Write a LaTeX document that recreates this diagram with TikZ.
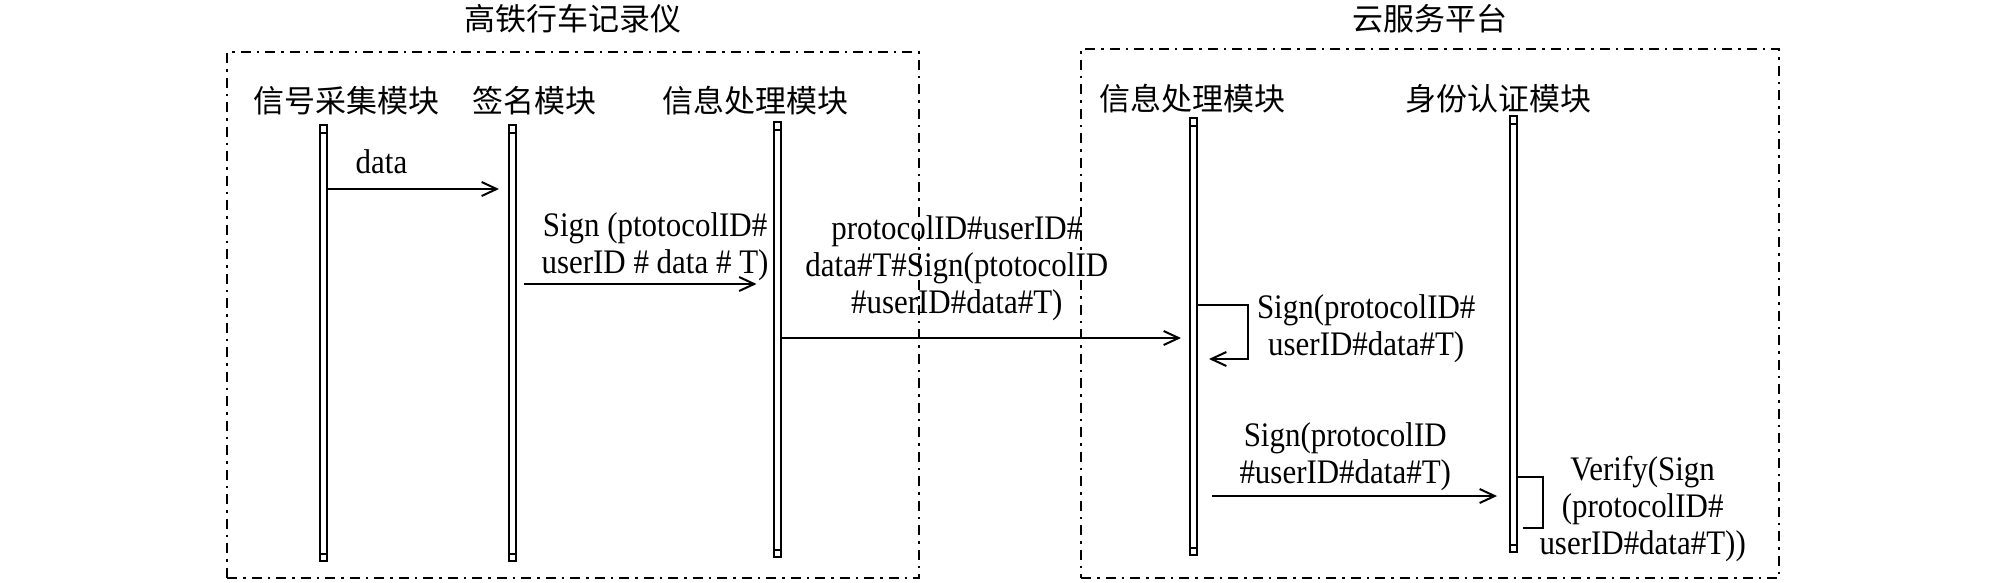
\documentclass[tikz,border=0pt]{standalone}
\usepackage{fontspec}
\setmainfont{Liberation Serif}[FakeStretch=0.9]
\newfontfamily\cjk{Noto Sans CJK SC}
\usetikzlibrary{arrows.meta,positioning}
\newcommand\cnfont{\cjk\fontsize{31}{37}\selectfont}
\newcommand\msgfont{\fontsize{34.4}{37}\selectfont}

\begin{document}
\begin{tikzpicture}[x=1pt,y=-1pt,line width=2pt,
  lifeline/.style={draw,rectangle,minimum width=7pt,inner sep=0pt,
    path picture={
      \draw[line width=2pt] ([yshift=-7.5pt]path picture bounding box.north west) -- ([yshift=-7.5pt]path picture bounding box.north east);
      \draw[line width=2pt] ([yshift=7.5pt]path picture bounding box.south west) -- ([yshift=7.5pt]path picture bounding box.south east);}},
  group/.style={draw,rectangle,inner sep=0pt,dash pattern=on 10pt off 6pt on 2.5pt off 6pt},
  module/.style={font=\cnfont,inner sep=2pt},
  msg/.style={-{Straight Barb[length=15pt,width=14pt]}},
  lbl/.style={font=\msgfont,align=center,inner sep=2pt}]
  \useasboundingbox (0,0) rectangle (2008,582);

  % the two systems
  \node[group,minimum width=692pt,minimum height=526pt] (rec) at (573,315) {};
  \node[group,minimum width=698pt,minimum height=529pt] (cloud) at (1430,313.5) {};
  \node[module] (trec) [above=14.5pt of rec] {高铁行车记录仪};
  \node[module] (tcloud) [above=11.5pt of cloud] {云服务平台};

  % modules and their lifelines
  \node[module] (tsig) at (346,101) {信号采集模块};
  \node[module] (tsign) at (534,101) {签名模块};
  \node[module] (tproc) at (755,101) {信息处理模块};
  \node[module] (tcproc) at (1192,99) {信息处理模块};
  \node[module] (tauth) at (1498,99) {身份认证模块};
  \node[lifeline,minimum height=436pt] (sig) at (323,343) {};
  \node[lifeline,minimum height=436pt] (sign) at (512,343) {};
  \node[lifeline,minimum height=435pt] (proc) at (777.5,339.5) {};
  \node[lifeline,minimum height=437pt] (cproc) at (1193,336.5) {};
  \node[lifeline,minimum height=436pt] (auth) at (1513,334) {};

  % messages
  \path[msg]
  (sig.east |- 0,189)
  edge [shorten >=8.5pt] node [lbl,pos=0.3,above=12.3pt] {data} (sign.west |- 0,189)
  (sign.east |- 0,284)
  edge [shorten <=7.5pt,shorten >=16.5pt] node [lbl,pos=0.54,above=0pt]
    {Sign (ptotocolID\#\\userID \# data \# T)} (proc.west |- 0,284)
  (proc.east |- 0,338)
  edge [shorten >=7.5pt] node [lbl,pos=0.43,above=14pt]
    {protocolID\#userID\#\\data\#T\#Sign(ptotocolID\\\#userID\#data\#T)} (cproc.west |- 0,338)
  (cproc.east |- 0,496)
  edge [shorten <=14.5pt,shorten >=11.5pt] node [lbl,pos=0.475,above=2pt]
    {Sign(protocolID\\\#userID\#data\#T)} (auth.west |- 0,496)
  ;
  \draw[msg,shorten >=11.5pt] (cproc.east |- 0,305) -- ++(50.5,0) -- ++(0,54)
    node [lbl,midway,right=6pt,yshift=3.6pt] {Sign(protocolID\#\\userID\#data\#T)}
    -- (cproc.east |- 0,359);
  \draw[shorten >=5.5pt] (auth.east |- 0,477) -- ++(25.5,0) -- ++(0,51)
    node [lbl,midway,anchor=west,xshift=-6.5pt,yshift=-6.5pt] {Verify(Sign\\(protocolID\#\\userID\#data\#T))}
    -- (auth.east |- 0,528);
\end{tikzpicture}
\end{document}
